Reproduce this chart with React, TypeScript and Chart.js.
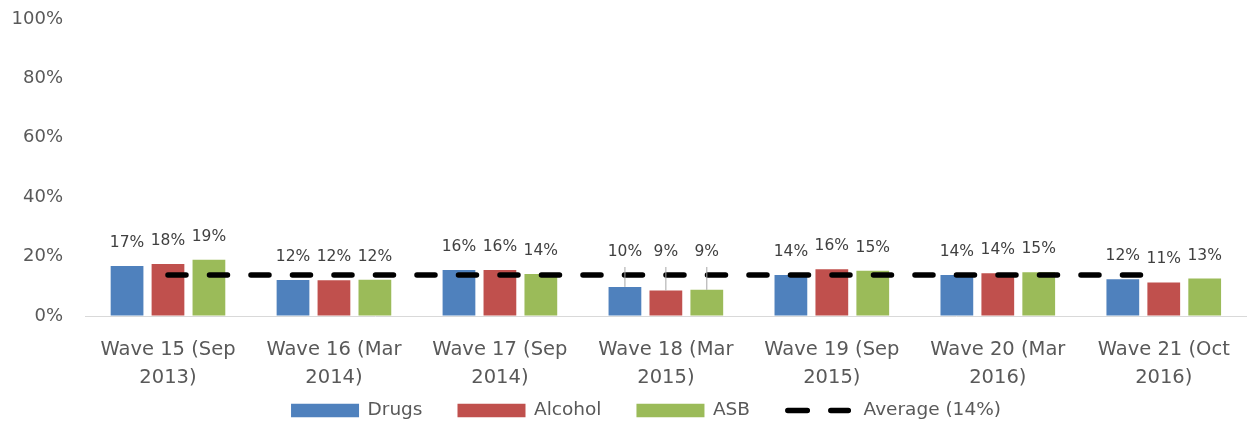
import React, { useEffect, useRef } from 'react';
import { Chart, registerables } from 'chart.js';

Chart.register(...registerables);

const categories: string[][] = [
  ['Wave 15 (Sep', '2013)'],
  ['Wave 16 (Mar', '2014)'],
  ['Wave 17 (Sep', '2014)'],
  ['Wave 18 (Mar', '2015)'],
  ['Wave 19 (Sep', '2015)'],
  ['Wave 20 (Mar', '2016)'],
  ['Wave 21 (Oct', '2016)'],
];
const drugs = [16.8, 12.1, 15.5, 9.8, 13.8, 13.8, 12.4];
const alcohol = [17.5, 12.0, 15.5, 8.6, 15.7, 14.4, 11.3];
const asb = [18.9, 12.2, 14.1, 8.8, 15.2, 14.7, 12.6];
const averageValue = 13.8;
const average = categories.map(() => averageValue);
const yTicks = [0, 20, 40, 60, 80, 100];

const FONT = '"DejaVu Sans", sans-serif';

const barLabelPlugin = {
  id: 'barLabels',
  afterDatasetsDraw(chart: any) {
    const ctx = chart.ctx;
    const yScale = chart.scales.y;
    const avgY = yScale.getPixelForValue(averageValue);
    ctx.save();
    ctx.font = `15.5px ${FONT}`;
    ctx.textAlign = 'center';
    ctx.textBaseline = 'middle';
    chart.data.datasets.forEach((ds: any, i: number) => {
      if (ds.type === 'line') return;
      const meta = chart.getDatasetMeta(i);
      meta.data.forEach((bar: any, j: number) => {
        const v = ds.data[j];
        let ly = bar.y - 23;
        if (ly + 14 > avgY) {
          ly = avgY - 23;
          ctx.strokeStyle = '#a6a6a6';
          ctx.lineWidth = 1;
          ctx.beginPath();
          ctx.moveTo(bar.x, bar.y);
          ctx.lineTo(bar.x, ly + 15);
          ctx.stroke();
        }
        ctx.fillStyle = '#404040';
        ctx.fillText(Math.round(v) + '%', bar.x, ly);
      });
    });
    ctx.restore();
  },
};

const legendPlugin = {
  id: 'customLegend',
  afterDraw(chart: any) {
    const ctx = chart.ctx;
    ctx.save();
    ctx.font = `18.5px ${FONT}`;
    ctx.textBaseline = 'middle';
    ctx.textAlign = 'left';
    const items = chart.data.datasets.map((ds: any) => {
      const isLine = ds.type === 'line';
      const symW = isLine ? 66 : 68;
      const gap = isLine ? 12.5 : 8.5;
      const tw = ctx.measureText(ds.label).width;
      return { ds, isLine, symW, gap, tw, w: symW + gap + tw };
    });
    const itemGap = 35;
    const total = items.reduce((s: number, it: any) => s + it.w, 0) + itemGap * (items.length - 1);
    const cy = chart.height - 12.5;
    let x = chart.width / 2 + 21 - total / 2;
    items.forEach((it: any) => {
      if (it.isLine) {
        ctx.strokeStyle = it.ds.borderColor;
        ctx.lineWidth = 5.5;
        ctx.lineCap = 'round';
        ctx.setLineDash([19.5, 23.5]);
        ctx.beginPath();
        ctx.moveTo(x + 2.75, cy);
        ctx.lineTo(x + it.symW - 2.75, cy);
        ctx.stroke();
        ctx.setLineDash([]);
      } else {
        ctx.fillStyle = it.ds.backgroundColor;
        ctx.fillRect(x, cy - 6.75, it.symW, 13.5);
      }
      ctx.fillStyle = '#595959';
      ctx.fillText(it.ds.label, x + it.symW + it.gap, cy);
      x += it.w + itemGap;
    });
    ctx.restore();
  },
};

export default function App() {
  const ref = useRef<HTMLCanvasElement | null>(null);
  useEffect(() => {
    if (!ref.current) return;
    const chart = new Chart(ref.current, {
      type: 'bar',
      data: {
        labels: categories,
        datasets: [
          { type: 'bar', label: 'Drugs', data: drugs, backgroundColor: '#4F81BD', categoryPercentage: 0.74, barPercentage: 0.8, order: 1 },
          { type: 'bar', label: 'Alcohol', data: alcohol, backgroundColor: '#C0504D', categoryPercentage: 0.74, barPercentage: 0.8, order: 1 },
          { type: 'bar', label: 'ASB', data: asb, backgroundColor: '#9BBB59', categoryPercentage: 0.74, barPercentage: 0.8, order: 1 },
          {
            type: 'line', label: 'Average (14%)', data: average, borderColor: '#000000', borderWidth: 5.5,
            borderDash: [18, 23.5], borderCapStyle: 'round', pointRadius: 0, fill: false, order: 0,
          } as any,
        ],
      },
      options: {
        animation: false,
        responsive: true,
        maintainAspectRatio: false,
        layout: { padding: { top: 19, right: 3, left: 0, bottom: 27 } },
        scales: {
          x: {
            grid: { display: false, drawTicks: false },
            border: { display: true, color: '#d9d9d9', width: 1 },
            ticks: { font: { family: FONT, size: 19.5, lineHeight: 1.42 }, color: '#595959', padding: 20, maxRotation: 0, autoSkip: false },
            afterFit: (scale: any) => { scale.height = 80; },
          },
          y: {
            min: 0, max: 100,
            afterBuildTicks: (scale: any) => { scale.ticks = yTicks.map((v) => ({ value: v })); },
            grid: { display: true, drawOnChartArea: false, drawTicks: true, tickLength: 22, color: 'rgba(0,0,0,0)' },
            border: { display: false },
            ticks: { font: { family: FONT, size: 18 }, color: '#595959', padding: 0, callback: (v: any) => v + '%' },
            afterFit: (scale: any) => { scale.width = 85; },
          },
        },
        plugins: {
          tooltip: { enabled: false },
          legend: { display: false },
        },
      },
      plugins: [barLabelPlugin, legendPlugin],
    } as any);
    return () => chart.destroy();
  }, []);
  return (
    <div style={{ position: 'fixed', left: 0, top: 0, width: 1250, height: 423, background: '#ffffff' }}>
      <canvas ref={ref} />
    </div>
  );
}
